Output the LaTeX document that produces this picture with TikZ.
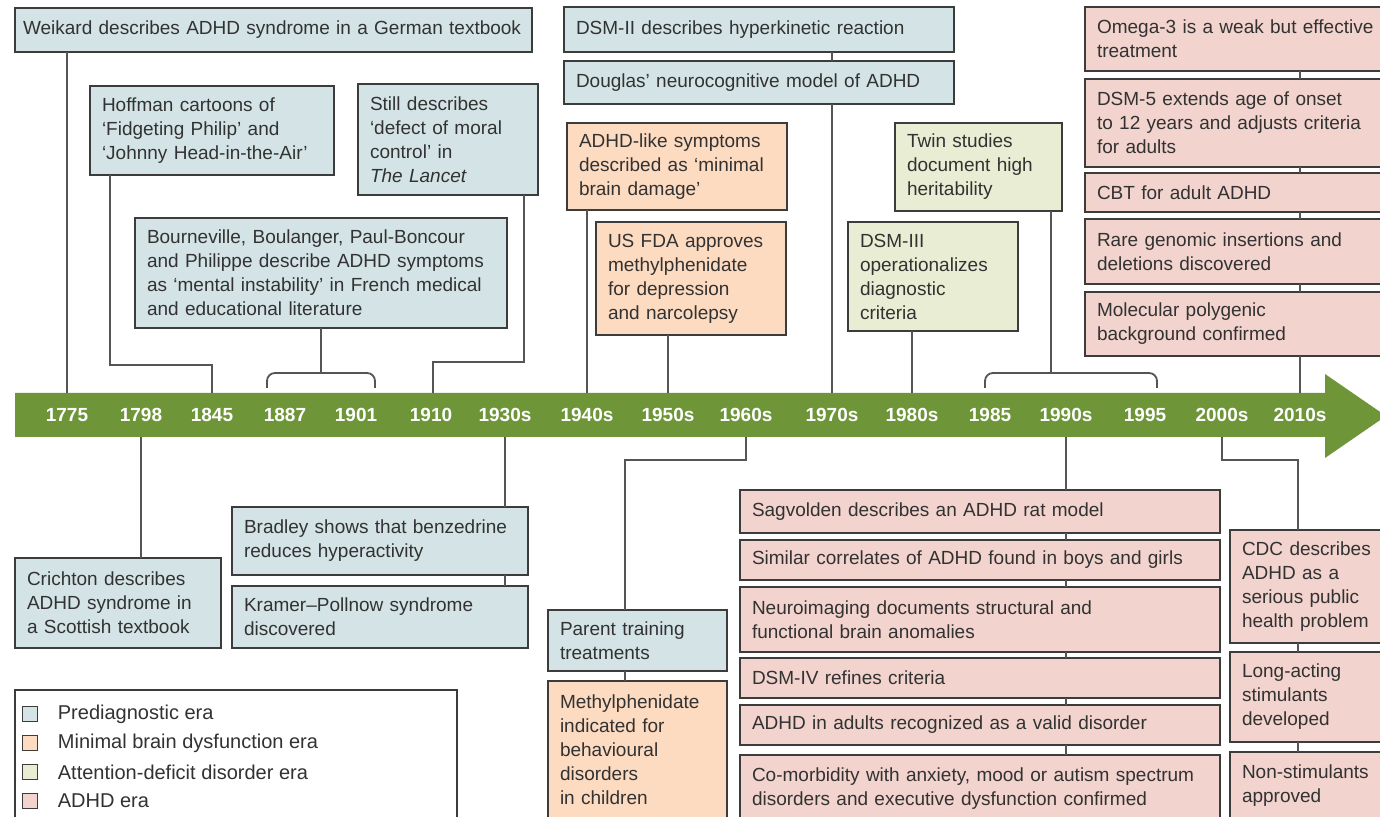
\documentclass[tikz,border=0pt]{standalone}
\usepackage{fontspec}
\setmainfont{Liberation Sans}
\usepackage{tikz}
\usetikzlibrary{positioning}

\definecolor{preblue}{RGB}{212,228,230}
\definecolor{mbdorange}{RGB}{253,219,193}
\definecolor{addgreen}{RGB}{233,237,211}
\definecolor{adhdpink}{RGB}{242,211,205}
\definecolor{bargreen}{RGB}{110,150,57}
\definecolor{edgegray}{RGB}{60,60,60}
\definecolor{linkgray}{RGB}{85,85,85}
\definecolor{txtgray}{RGB}{50,50,50}

\begin{document}
\begin{tikzpicture}[x=0.5pt,y=-0.5pt,
    ev/.style={draw=edgegray,line width=0.75pt,anchor=north west,align=left,
               inner xsep=6pt,inner ysep=3pt,outer sep=0pt,text=txtgray,
               font=\fontsize{9.5}{12}\selectfont},
    pre/.style={ev,fill=preblue},
    mbd/.style={ev,fill=mbdorange},
    add/.style={ev,fill=addgreen},
    adhd/.style={ev,fill=adhdpink},
    link/.style={draw=linkgray,line width=0.9pt},
    year/.style={text=white,font=\bfseries\fontsize{9.5}{11}\selectfont},
    legsq/.style={draw=edgegray,line width=0.6pt,minimum size=7.5pt,inner sep=0pt,outer sep=0pt},
    legtxt/.style={inner sep=0pt,text=txtgray,font=\fontsize{10}{12}\selectfont}]

  \useasboundingbox (0,0) rectangle (1380,817);
  \clip (0,0) rectangle (1380,817);

  % timeline bar
  \fill[bargreen] (15,393) -- (1325,393) -- (1325,374) -- (1386,416)
        -- (1325,458) -- (1325,437) -- (15,437) -- cycle;
  \coordinate (bartop) at (0,393);
  \coordinate (barbot) at (0,437);

  \foreach \nm/\xx/\lab in {1775/67/1775, 1798/141/1798, 1845/212/1845,
      1887/285/1887, 1901/356/1901, 1910/431/1910, 1930/505/1930s,
      1940/587/1940s, 1950/668/1950s, 1960/746/1960s, 1970/832/1970s,
      1980/912/1980s, 1985/990/1985, 1990/1066/1990s, 1995/1145/1995,
      2000/1222/2000s, 2010/1300/2010s}
    \node[year] (y\nm) at (\xx,415) {\lab};

  % above the bar
  \node[pre,inner xsep=4pt,text width=250.5pt,minimum height=22pt] (weikard) at (15,8)
    {Weikard describes ADHD syndrome in a German textbook};
  \node[pre,text width=110pt,minimum height=44.5pt] (hoffman) at (90,86)
    {Hoffman cartoons of\\‘Fidgeting Philip’ and\\‘Johnny Head-in-the-Air’};
  \node[pre,text width=78pt,minimum height=55.5pt] (still) at (358,84)
    {Still describes\\‘defect of moral\\control’ in\\\textit{The Lancet}};
  \node[pre,text width=174pt,minimum height=55pt] (bourn) at (135,218)
    {Bourneville, Boulanger, Paul-Boncour\\and Philippe describe ADHD symptoms\\as ‘mental instability’ in French medical\\and educational literature};
  \node[pre,text width=183pt,minimum height=22.5pt] (dsmii) at (564,7)
    {DSM-II describes hyperkinetic reaction};
  \node[pre,text width=183pt,minimum height=21.5pt,
        below right=4.5pt and 0pt of dsmii.south west] (douglas)
    {Douglas’ neurocognitive model of ADHD};
  \node[mbd,text width=98pt,minimum height=43.5pt] (mbdamage) at (567,123)
    {ADHD-like symptoms\\described as ‘minimal\\brain damage’};
  \node[mbd,text width=83pt,minimum height=56.5pt] (fda) at (596,222)
    {US FDA approves\\methylphenidate\\for depression\\and narcolepsy};
  \node[add,text width=71.5pt,minimum height=44pt] (twin) at (895,123)
    {Twin studies\\document high\\heritability};
  \node[add,text width=73pt,minimum height=54.5pt] (dsmiii) at (848,222)
    {DSM-III\\operationalizes\\diagnostic\\criteria};

  \node[adhd,text width=148pt,minimum height=32pt] (omega) at (1085,7)
    {Omega-3 is a weak but effective\\treatment};
  \node[adhd,text width=148pt,minimum height=44pt,
        below right=4pt and 0pt of omega.south west] (dsmv)
    {DSM-5 extends age of onset\\to 12 years and adjusts criteria\\for adults};
  \node[adhd,text width=148pt,minimum height=19.5pt,
        below right=3pt and 0pt of dsmv.south west] (cbt)
    {CBT for adult ADHD};
  \node[adhd,text width=148pt,minimum height=32.5pt,
        below right=3.5pt and 0pt of cbt.south west] (rare)
    {Rare genomic insertions and\\deletions discovered};
  \node[adhd,text width=148pt,minimum height=32pt,
        below right=4pt and 0pt of rare.south west] (molec)
    {Molecular polygenic\\background confirmed};

  % below the bar
  \node[pre,text width=91pt,minimum height=45pt] (crichton) at (15,558)
    {Crichton describes\\ADHD syndrome in\\a Scottish textbook};
  \node[pre,text width=136pt,minimum height=34pt] (bradley) at (232,507)
    {Bradley shows that benzedrine\\reduces hyperactivity};
  \node[pre,text width=136pt,minimum height=31pt,
        below right=5.5pt and 0pt of bradley.south west] (kramer)
    {Kramer--Pollnow syndrome\\discovered};
  \node[pre,text width=77.5pt,minimum height=30.5pt] (parent) at (548,610)
    {Parent training\\treatments};
  \node[mbd,text width=77.5pt,minimum height=69pt,
        below right=5pt and 0pt of parent.south west] (methyl)
    {Methylphenidate\\indicated for\\behavioural\\disorders\\in children};

  \node[adhd,text width=228pt,minimum height=21.5pt] (sagvolden) at (740,490)
    {Sagvolden describes an ADHD rat model};
  \node[adhd,text width=228pt,minimum height=20pt,
        below right=3.5pt and 0pt of sagvolden.south west] (similar)
    {Similar correlates of ADHD found in boys and girls};
  \node[adhd,text width=228pt,minimum height=32.5pt,
        below right=3.5pt and 0pt of similar.south west] (neuro)
    {Neuroimaging documents structural and\\functional brain anomalies};
  \node[adhd,text width=228pt,minimum height=20pt,
        below right=3pt and 0pt of neuro.south west] (dsmiv)
    {DSM-IV refines criteria};
  \node[adhd,text width=228pt,minimum height=20pt,
        below right=3.5pt and 0pt of dsmiv.south west] (adults)
    {ADHD in adults recognized as a valid disorder};
  \node[adhd,text width=228pt,minimum height=34pt,
        below right=5pt and 0pt of adults.south west] (comorb)
    {Co-morbidity with anxiety, mood or autism spectrum\\disorders and executive dysfunction confirmed};

  \node[adhd,text width=70.5pt,minimum height=56.5pt] (cdc) at (1230,530)
    {CDC describes\\ADHD as a\\serious public\\health problem};
  \node[adhd,text width=70.5pt,minimum height=45pt,
        below right=4.5pt and 0pt of cdc.south west] (longact)
    {Long-acting\\stimulants\\developed};
  \node[adhd,text width=70.5pt,minimum height=34pt,
        below right=5pt and 0pt of longact.south west] (nonstim)
    {Non-stimulants\\approved};

  % legend
  \node[draw=edgegray,line width=0.75pt,fill=white,anchor=north west,outer sep=0pt,
        minimum width=221pt,minimum height=70pt,inner sep=0pt] (legend) at (15,690) {};
  \node[legsq,fill=preblue] (lgpre) at (30,714) {};
  \node[legsq,fill=mbdorange,below=7pt of lgpre] (lgmbd) {};
  \node[legsq,fill=addgreen,below=7pt of lgmbd] (lgadd) {};
  \node[legsq,fill=adhdpink,below=7pt of lgadd] (lgadhd) {};
  \node[legtxt,right=10pt of lgpre] (ltpre) {Prediagnostic era};
  \node[legtxt,right=10pt of lgmbd] (ltmbd) {Minimal brain dysfunction era};
  \node[legtxt,right=10pt of lgadd] (ltadd) {Attention-deficit disorder era};
  \node[legtxt,right=10pt of lgadhd] (ltadhd) {ADHD era};

  % connectors above
  \coordinate (k1845) at (212,365);
  \coordinate (k1910) at (433,362);
  \coordinate (br87) at (267,388);
  \coordinate (br01) at (375,388);
  \coordinate (br85) at (985,388);
  \coordinate (br95) at (1157,388);
  \coordinate (ktwin) at (1051,373);
  \draw[link] (weikard.south -| y1775) -- (y1775 |- bartop);
  \draw[link] ([xshift=10pt]hoffman.south west) |- (k1845) -- (k1845 |- bartop);
  \draw[link] ([xshift=-7pt]still.south east) |- (k1910) -- (k1910 |- bartop);
  \draw[link] (bourn.south) -- ++(0,45);
  \draw[link,rounded corners=4pt] (br87) -- ++(0,-15) -| (br01);
  \draw[link] (dsmii.south -| y1970) -- (douglas.north -| y1970);
  \draw[link] (douglas.south -| y1970) -- (y1970 |- bartop);
  \draw[link] (mbdamage.south -| y1940) -- (y1940 |- bartop);
  \draw[link] (fda.south -| y1950) -- (y1950 |- bartop);
  \draw[link] (dsmiii.south -| y1980) -- (y1980 |- bartop);
  \draw[link] (twin.south -| ktwin) -- (ktwin);
  \draw[link,rounded corners=4pt] (br85) -- ++(0,-15) -| (br95);
  \foreach \a/\b in {omega/dsmv,dsmv/cbt,cbt/rare,rare/molec}
    \draw[link] (\a.south -| y2010) -- (\b.north -| y2010);
  \draw[link] (molec.south -| y2010) -- (y2010 |- bartop);

  % connectors below
  \coordinate (k1960) at (625,460);
  \coordinate (k2000) at (1298,460);
  \draw[link] (y1798 |- barbot) -- (crichton.north -| y1798);
  \draw[link] (y1930 |- barbot) -- (bradley.north -| y1930);
  \draw[link] (bradley.south -| y1930) -- (kramer.north -| y1930);
  \draw[link] (y1960 |- barbot) |- (k1960) -- (parent.north -| k1960);
  \draw[link] (parent.south -| k1960) -- (methyl.north -| k1960);
  \draw[link] (y1990 |- barbot) -- (sagvolden.north -| y1990);
  \foreach \a/\b in {sagvolden/similar,similar/neuro,neuro/dsmiv,dsmiv/adults,adults/comorb}
    \draw[link] (\a.south -| y1990) -- (\b.north -| y1990);
  \draw[link] (y2000 |- barbot) |- (k2000) -- (cdc.north -| k2000);
  \draw[link] (cdc.south -| k2000) -- (longact.north -| k2000);
  \draw[link] (longact.south -| k2000) -- (nonstim.north -| k2000);
\end{tikzpicture}
\end{document}
